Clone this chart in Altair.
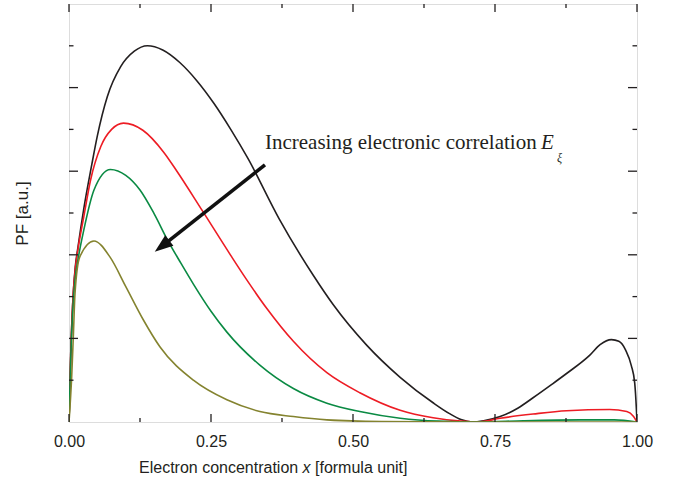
import altair as alt
import pandas as pd

# ---- data ----
black_x = [0, 0.003, 0.0076, 0.011, 0.016, 0.026, 0.04, 0.05, 0.0674, 0.091, 0.115, 0.138, 0.165,
           0.195, 0.225, 0.255, 0.285, 0.315, 0.37, 0.43, 0.465, 0.524, 0.583, 0.641, 0.67, 0.69,
           0.71, 0.73, 0.759, 0.79, 0.817, 0.85, 0.876, 0.917, 0.935, 0.955, 0.968, 0.98, 0.99,
           0.996, 0.999, 1.0]
black_y = [0, 1.6, 3.1, 3.7, 4.2, 5.1, 6.15, 6.85, 7.78, 8.5, 8.87, 9.0, 8.9,
           8.6, 8.165, 7.625, 6.995, 6.305, 4.86, 3.51, 2.81, 1.84, 1.07, 0.46, 0.2, 0.06,
           0.0, 0.03, 0.13, 0.33, 0.58, 0.9, 1.16, 1.6, 1.85, 1.97, 1.93, 1.72, 1.35,
           0.93, 0.29, 0]

red_x = [0, 0.003, 0.0076, 0.011, 0.016, 0.026, 0.038, 0.056, 0.075, 0.096, 0.13, 0.167, 0.19,
         0.235, 0.285, 0.313, 0.348, 0.395, 0.454, 0.512, 0.583, 0.641, 0.69, 0.72, 0.759, 0.817,
         0.876, 0.952, 0.982, 0.994, 1.0]
red_y = [0, 1.6, 3.1, 3.65, 4.15, 4.91, 5.79, 6.59, 7.0, 7.15, 6.98, 6.45, 6.0,
         5.05, 3.98, 3.4, 2.72, 1.93, 1.18, 0.7, 0.28, 0.1, 0.02, 0.0, 0.09, 0.19,
         0.27, 0.30, 0.25, 0.13, 0]

green_x = [0, 0.003, 0.0076, 0.011, 0.016, 0.026, 0.044, 0.073, 0.1, 0.125, 0.15, 0.174, 0.197,
           0.219, 0.25, 0.278, 0.336, 0.395, 0.454, 0.512, 0.583, 0.65, 0.72, 0.8, 0.9, 0.96, 1.0]
green_y = [0, 1.5, 2.9, 3.45, 3.9, 4.59, 5.55, 6.04, 5.9, 5.55, 4.98, 4.34, 3.8,
           3.3, 2.65, 2.15, 1.36, 0.8, 0.45, 0.25, 0.09, 0.02, 0.0, 0.03, 0.05, 0.05, 0]

olive_x = [0, 0.0047, 0.0076, 0.0106, 0.019, 0.044, 0.072, 0.10, 0.131, 0.16, 0.219, 0.278, 0.336,
           0.395, 0.454, 0.55, 0.7, 1.0]
olive_y = [0, 1.08, 2.04, 3.08, 3.95, 4.33, 3.95, 3.24, 2.44, 1.80, 1.0, 0.53, 0.25,
           0.13, 0.05, 0.01, 0, 0]

x_labels = [0, 0.25, 0.5, 0.75, 1.0]
x_major = [0, 0.25, 0.5, 0.75, 1.0]
x_minor = [0.125, 0.375, 0.625, 0.875]
y_major = [2, 4, 6, 8]
y_minor = [1, 3, 5, 7, 9]

arrow_x = [0.345, 0.165]
arrow_y = [6.15, 4.22]
arrow_tip_x = [0.151]
arrow_tip_y = [4.07]

note_text = ["Increasing electronic correlation"]
note_x = [0.345]
note_y = [6.53]
e_x = [0.831]
e_y = [6.53]
xi_x = [0.859]
xi_y = [6.22]

W, H = 568, 418
SANS = "Liberation Sans, Arial, sans-serif"
SERIF = "Liberation Serif, Times New Roman, serif"
INK = "#231f20"

xscale = alt.Scale(domain=[0, 1], nice=False, zero=False)
yscale = alt.Scale(domain=[0, 10], nice=False, zero=False)

x_axis = alt.Axis(values=x_labels, format=".2f", title=None, ticks=False, domain=False, grid=False,
                  labelFont=SANS, labelFontSize=16, labelColor=INK, labelPadding=11,
                  labelFlush=False)
y_axis = alt.Axis(labels=False, ticks=False, domain=False, grid=False, title="PF [a.u.]",
                  titleFont=SANS, titleFontSize=17, titleFontWeight="normal", titleColor=INK,
                  titleAngle=-90, titleX=-47, titleY=H / 2, titleAlign="center",
                  titleBaseline="middle")


def X(field="x"):
    return alt.X(f"{field}:Q", scale=xscale, axis=x_axis)


def Y(field="y"):
    return alt.Y(f"{field}:Q", scale=yscale, axis=y_axis)


def curve(xs, ys, color):
    df = pd.DataFrame({"x": xs, "y": ys})
    return alt.Chart(df).mark_line(color=color, strokeWidth=1.6, interpolate="monotone",
                                   clip=True).encode(x=X(), y=Y())


layers = [
    curve(black_x, black_y, INK),
    curve(red_x, red_y, "#ed1c24"),
    curve(green_x, green_y, "#0a8a43"),
    curve(olive_x, olive_y, "#84832f"),
]


# ticks (inward, on all four sides)
def xticks(vals, length):
    df = pd.DataFrame({"x": vals})
    bottom = alt.Chart(df).mark_rule(color=INK, strokeWidth=1.3).encode(
        x=X(), y=alt.value(H), y2=alt.value(H - length))
    top = alt.Chart(df).mark_rule(color=INK, strokeWidth=1.3).encode(
        x=X(), y=alt.value(0), y2=alt.value(length))
    return [bottom, top]


def yticks(vals, length):
    df = pd.DataFrame({"y": vals})
    left = alt.Chart(df).mark_rule(color=INK, strokeWidth=1.3).encode(
        y=Y(), x=alt.value(0), x2=alt.value(length))
    right = alt.Chart(df).mark_rule(color=INK, strokeWidth=1.3).encode(
        y=Y(), x=alt.value(W), x2=alt.value(W - length))
    return [left, right]


layers += xticks(x_major, 8) + xticks(x_minor, 4) + yticks(y_major, 9) + yticks(y_minor, 4.5)

# arrow
arrow_df = pd.DataFrame({"x": arrow_x, "y": arrow_y})
layers.append(alt.Chart(arrow_df).mark_line(color="#111", strokeWidth=3.6).encode(x=X(), y=Y()))
tip_df = pd.DataFrame({"x": arrow_tip_x, "y": arrow_tip_y})
layers.append(alt.Chart(tip_df).mark_point(shape="M0,0L0.72,2L-0.72,2Z", filled=True, size=340,
                                          angle=232, color="#111", opacity=1).encode(x=X(), y=Y()))

# annotation text
note_df = pd.DataFrame({"x": note_x, "y": note_y, "t": note_text})
layers.append(alt.Chart(note_df).mark_text(align="left", baseline="alphabetic", font=SERIF,
                                           fontSize=21, color=INK).encode(
    x=X(), y=Y(), text="t:N"))
e_df = pd.DataFrame({"x": e_x, "y": e_y, "t": ["E"]})
layers.append(alt.Chart(e_df).mark_text(align="left", baseline="alphabetic", font=SERIF,
                                        fontSize=21, fontStyle="italic", color=INK).encode(
    x=X(), y=Y(), text="t:N"))
xi_df = pd.DataFrame({"x": xi_x, "y": xi_y, "t": ["ξ"]})
layers.append(alt.Chart(xi_df).mark_text(align="left", baseline="alphabetic", font=SERIF,
                                         fontSize=12, fontStyle="italic", color=INK).encode(
    x=X(), y=Y(), text="t:N"))

# x-axis title with italic x
title_parts = [("Electron concentration", "normal", 70), ("x", "italic", 233.5),
               ("[formula unit]", "normal", 246)]
for txt, style, px in title_parts:
    layers.append(alt.Chart(pd.DataFrame({"t": [txt]})).mark_text(
        align="left", baseline="alphabetic", font=SANS, fontSize=16, fontStyle=style,
        color=INK).encode(x=alt.value(px), y=alt.value(469), text="t:N"))

chart = alt.layer(*layers).properties(
    width=W, height=H,
    autosize=alt.AutoSizeParams(type="none"),
    padding={"left": 69, "top": 4, "right": 42, "bottom": 69},
).configure_view(stroke=INK, strokeWidth=1.5).configure(background="white")

chart.save("out.html", embed_options={"renderer": "svg", "actions": False})
